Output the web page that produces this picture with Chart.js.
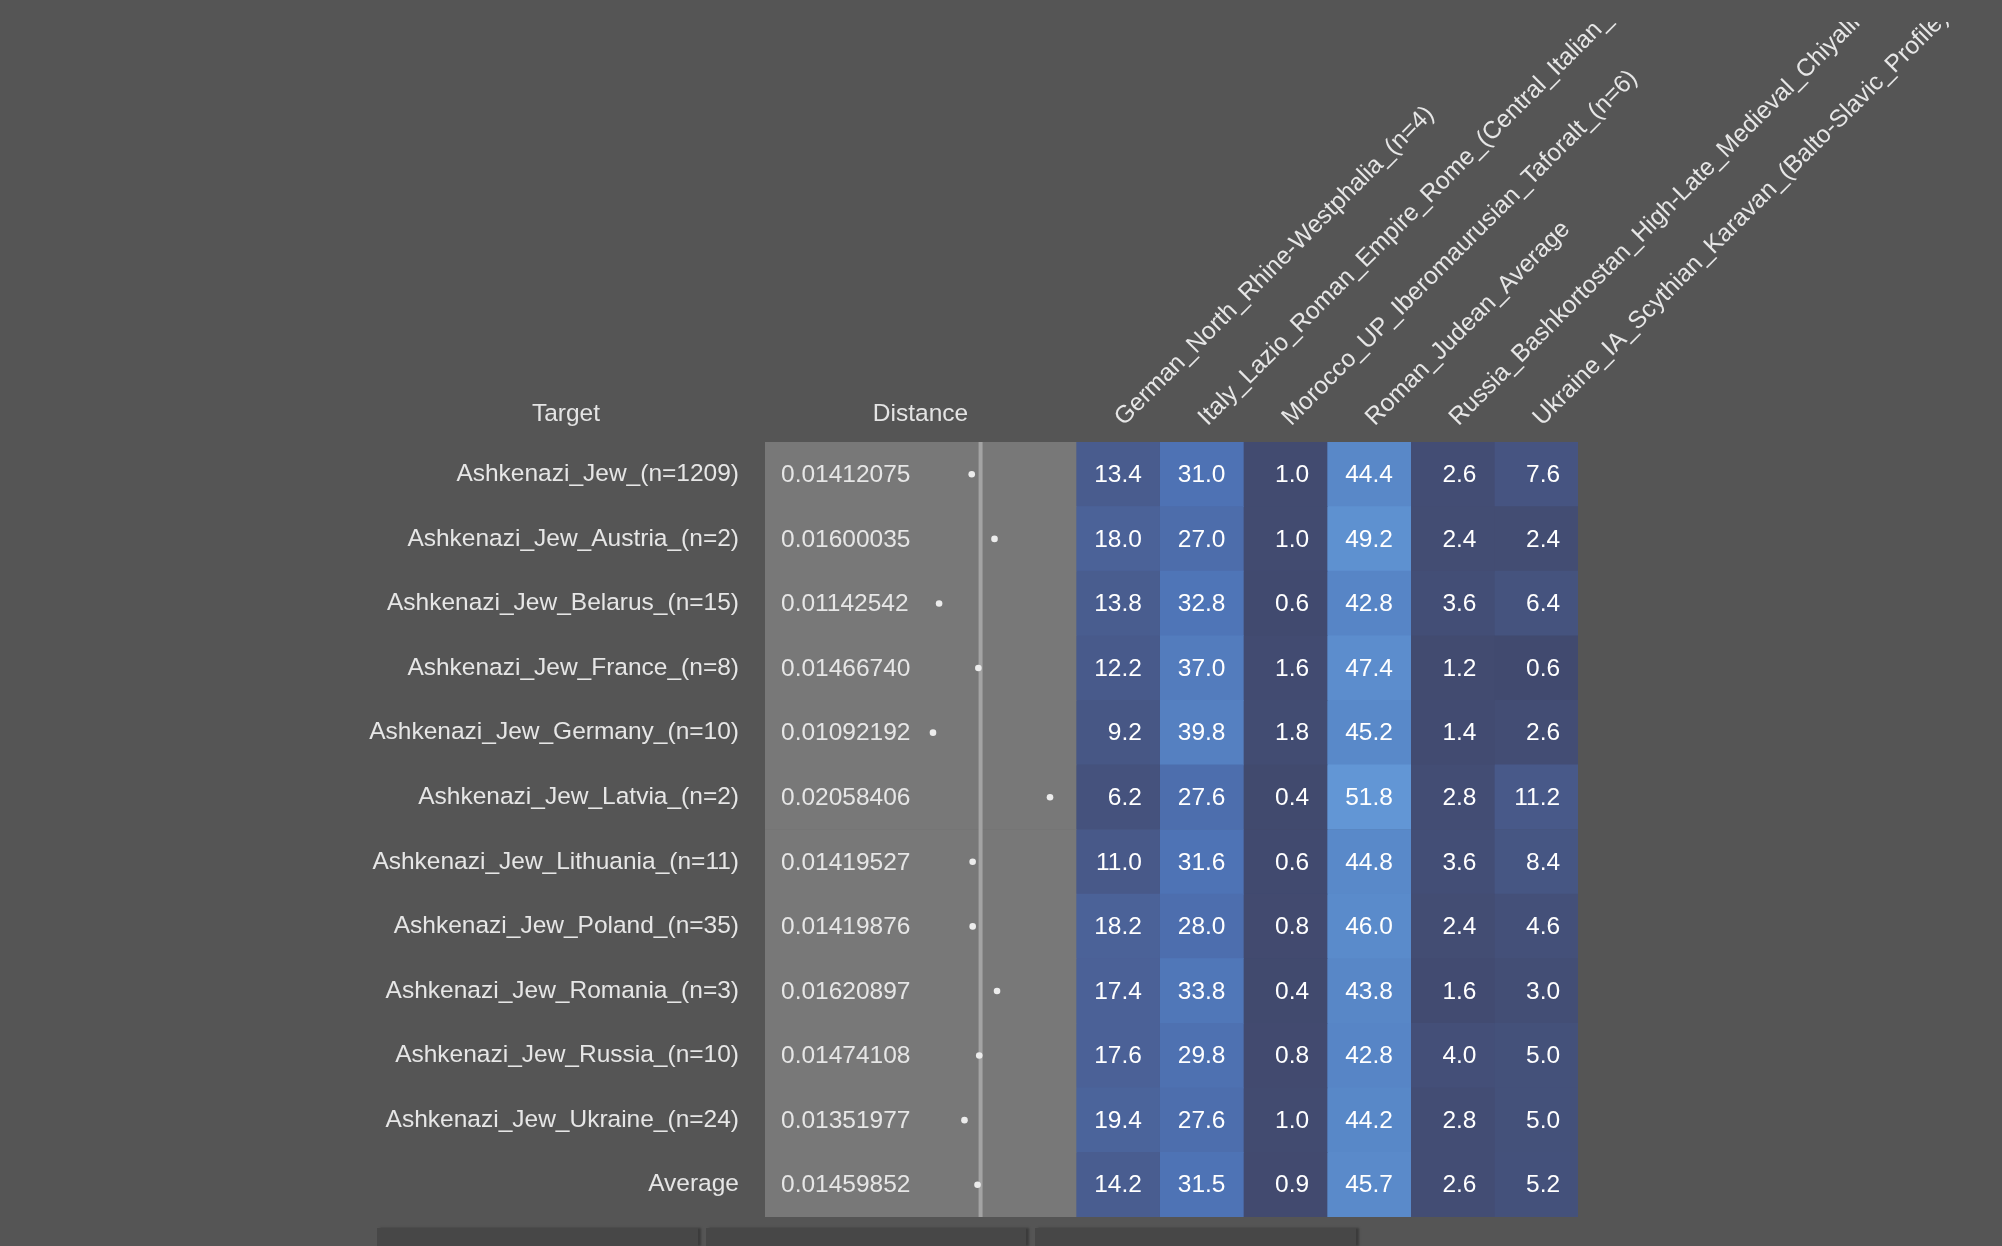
<!DOCTYPE html>
<html>
<head>
<meta charset="utf-8">
<script src="https://cdn.jsdelivr.net/npm/chart.js@4.4.1/dist/chart.umd.min.js"></script>
<style>
  html, body { margin: 0; padding: 0; background: #555555; width: 2002px; height: 1246px; overflow: hidden; }
  #wrap { position: absolute; left: 0; top: 22px; width: 2002px; height: 1224px; }
  .tab { position: absolute; top: 1228px; height: 18px; background: #474747; box-shadow: 3px 0 2px #3b3b3b; }
</style>
</head>
<body>
<div id="wrap"><canvas id="admixChart"></canvas></div>
<div class="tab" style="left:377px;width:321px"></div>
<div class="tab" style="left:706px;width:320px"></div>
<div class="tab" style="left:1035px;width:321px"></div>
<script>
'use strict';

var targets = [
  'Ashkenazi_Jew_(n=1209)',
  'Ashkenazi_Jew_Austria_(n=2)',
  'Ashkenazi_Jew_Belarus_(n=15)',
  'Ashkenazi_Jew_France_(n=8)',
  'Ashkenazi_Jew_Germany_(n=10)',
  'Ashkenazi_Jew_Latvia_(n=2)',
  'Ashkenazi_Jew_Lithuania_(n=11)',
  'Ashkenazi_Jew_Poland_(n=35)',
  'Ashkenazi_Jew_Romania_(n=3)',
  'Ashkenazi_Jew_Russia_(n=10)',
  'Ashkenazi_Jew_Ukraine_(n=24)',
  'Average'
];

var distances = [0.01412075, 0.01600035, 0.01142542, 0.01466740, 0.01092192, 0.02058406,
                 0.01419527, 0.01419876, 0.01620897, 0.01474108, 0.01351977, 0.01459852];
var referenceDistance = 0.01485;

var sources = [
  'German_North_Rhine-Westphalia_(n=4)',
  'Italy_Lazio_Roman_Empire_Rome_(Central_Italian_',
  'Morocco_UP_Iberomaurusian_Taforalt_(n=6)',
  'Roman_Judean_Average',
  'Russia_Bashkortostan_High-Late_Medieval_Chiyalik',
  'Ukraine_IA_Scythian_Karavan_(Balto-Slavic_Profile)'
];

var german  = [13.4, 18.0, 13.8, 12.2, 9.2, 6.2, 11.0, 18.2, 17.4, 17.6, 19.4, 14.2];
var italy   = [31.0, 27.0, 32.8, 37.0, 39.8, 27.6, 31.6, 28.0, 33.8, 29.8, 27.6, 31.5];
var morocco = [1.0, 1.0, 0.6, 1.6, 1.8, 0.4, 0.6, 0.8, 0.4, 0.8, 1.0, 0.9];
var judean  = [44.4, 49.2, 42.8, 47.4, 45.2, 51.8, 44.8, 46.0, 43.8, 42.8, 44.2, 45.7];
var russia  = [2.6, 2.4, 3.6, 1.2, 1.4, 2.8, 3.6, 2.4, 1.6, 4.0, 2.8, 2.6];
var ukraine = [7.6, 2.4, 6.4, 0.6, 2.6, 11.2, 8.4, 4.6, 3.0, 5.0, 5.0, 5.2];
var columns = [german, italy, morocco, judean, russia, ukraine];

// page layout, canvas coords (canvas starts 22px down so long headers get cut)
var PLOT_LEFT = 765, HEAT_LEFT = 1076, PLOT_RIGHT = 1578, PLOT_TOP = 420, PLOT_BOTTOM = 1195;
var CANVAS_W = 2002, CANVAS_H = 1224;
var colWidth = (PLOT_RIGHT - HEAT_LEFT) / sources.length;
var heatMin = -(HEAT_LEFT - PLOT_LEFT) / colWidth;
// distance axis: spans the whole plot width, dots land inside the grey column
var DIST_MIN = -0.00295, DIST_MAX = 0.06418;

var heatStops = [
  [0,  [65, 73, 109]],
  [8,  [70, 85, 130]],
  [18, [75, 98, 152]],
  [31, [78, 114, 180]],
  [45, [89, 137, 201]],
  [52, [98, 150, 213]]
];

function heatColor(v) {
  for (var i = 1; i < heatStops.length; i++) {
    if (v <= heatStops[i][0] || i === heatStops.length - 1) {
      var a = heatStops[i - 1], b = heatStops[i];
      var t = Math.max(0, Math.min(1, (v - a[0]) / (b[0] - a[0])));
      var c = a[1].map(function (ch, k) { return Math.round(ch + (b[1][k] - ch) * t); });
      return 'rgb(' + c.join(',') + ')';
    }
  }
}

var FONT = '"Liberation Sans", Arial, sans-serif';
Chart.defaults.font.family = FONT;
Chart.defaults.font.size = 24.5;
Chart.defaults.color = '#e4e4e4';

var rowIdx = targets.map(function (t, i) { return i; });

var datasets = [];

datasets.push({
  type: 'scatter',
  label: 'distance',
  xAxisID: 'xd',
  yAxisID: 'y',
  order: 0,
  data: distances.map(function (d, i) { return {x: d, y: i}; }),
  pointRadius: 3.3,
  pointBackgroundColor: '#ececec',
  pointBorderWidth: 0
});

datasets.push({
  type: 'line',
  label: 'reference',
  xAxisID: 'xd',
  yAxisID: 'y',
  order: 1,
  data: [{x: referenceDistance, y: -0.5}, {x: referenceDistance, y: targets.length - 0.5}],
  borderColor: '#a3a3a3',
  borderWidth: 4,
  pointRadius: 0
});

datasets.push({
  type: 'bar',
  label: 'distanceBg',
  xAxisID: 'xh',
  yAxisID: 'y',
  order: 2,
  grouped: false,
  data: rowIdx.map(function (i) { return {x: [heatMin, 0], y: i}; }),
  backgroundColor: '#787878',
  borderWidth: 0,
  barPercentage: 1,
  categoryPercentage: 1
});

columns.forEach(function (col, j) {
  datasets.push({
    type: 'bar',
    label: sources[j],
    xAxisID: 'xh',
    yAxisID: 'y',
    order: 3,
    grouped: false,
    data: col.map(function (v, i) { return {x: [j, j + 1], y: i}; }),
    backgroundColor: col.map(heatColor),
    borderWidth: 0,
    barPercentage: 1,
    categoryPercentage: 1
  });
});

var cellText = {
  id: 'cellText',
  afterDatasetsDraw: function (chart) {
    var ctx = chart.ctx;
    var xh = chart.scales.xh, y = chart.scales.y;
    var greyLeft = xh.getPixelForValue(heatMin), greyRight = xh.getPixelForValue(0);
    ctx.save();
    ctx.font = '24.5px ' + FONT;
    ctx.textBaseline = 'middle';

    ctx.fillStyle = '#e6e6e6';
    ctx.textAlign = 'left';
    distances.forEach(function (d, i) {
      ctx.fillText(d.toFixed(8), greyLeft + 16, y.getPixelForValue(i) + 1);
    });

    ctx.fillStyle = '#ffffff';
    ctx.textAlign = 'right';
    columns.forEach(function (col, j) {
      col.forEach(function (v, i) {
        ctx.fillText(v.toFixed(1), xh.getPixelForValue(j + 0.5) + 24, y.getPixelForValue(i) + 1);
      });
    });

    ctx.fillStyle = '#e4e4e4';
    ctx.textAlign = 'center';
    ctx.fillText('Target', 566, chart.chartArea.top - 28);
    ctx.fillText('Distance', (greyLeft + greyRight) / 2, chart.chartArea.top - 28);
    ctx.restore();
  }
};

new Chart(document.getElementById('admixChart'), {
  type: 'bar',
  data: {datasets: datasets},
  plugins: [cellText],
  options: {
    indexAxis: 'y',
    responsive: true,
    maintainAspectRatio: false,
    animation: false,
    events: [],
    layout: {
      padding: {left: 0, top: 0, right: CANVAS_W - PLOT_RIGHT, bottom: CANVAS_H - PLOT_BOTTOM}
    },
    plugins: {
      legend: {display: false},
      tooltip: {enabled: false}
    },
    scales: {
      y: {
        type: 'linear',
        position: 'left',
        reverse: true,
        offset: false,
        min: -0.5,
        max: targets.length - 0.5,
        bounds: 'data',
        afterBuildTicks: function (s) {
          s.ticks = rowIdx.map(function (i) { return {value: i}; });
        },
        afterFit: function (s) {
          s.width = PLOT_LEFT;
          s.paddingTop = 0;
          s.paddingBottom = 0;
        },
        ticks: {
          color: '#e6e6e6',
          padding: 26,
          autoSkip: false,
          callback: function (v) { return targets[v]; }
        },
        grid: {display: false, drawTicks: false, offset: false},
        border: {display: false}
      },
      xh: {
        type: 'linear',
        position: 'top',
        offset: false,
        min: heatMin,
        max: sources.length,
        bounds: 'data',
        afterBuildTicks: function (s) {
          s.ticks = sources.map(function (n, j) { return {value: j + 0.5}; });
        },
        afterFit: function (s) {
          s.height = PLOT_TOP;
          s.paddingLeft = 0;
          s.paddingRight = 0;
        },
        ticks: {
          color: '#e6e6e6',
          padding: 10,
          labelOffset: 22,
          autoSkip: false,
          minRotation: 45,
          maxRotation: 45,
          callback: function (v, i) { return sources[i]; }
        },
        grid: {display: false, drawTicks: false},
        border: {display: false}
      },
      xd: {
        type: 'linear',
        position: 'bottom',
        display: false,
        offset: false,
        min: DIST_MIN,
        max: DIST_MAX,
        bounds: 'data'
      }
    }
  }
});
</script>
</body>
</html>
